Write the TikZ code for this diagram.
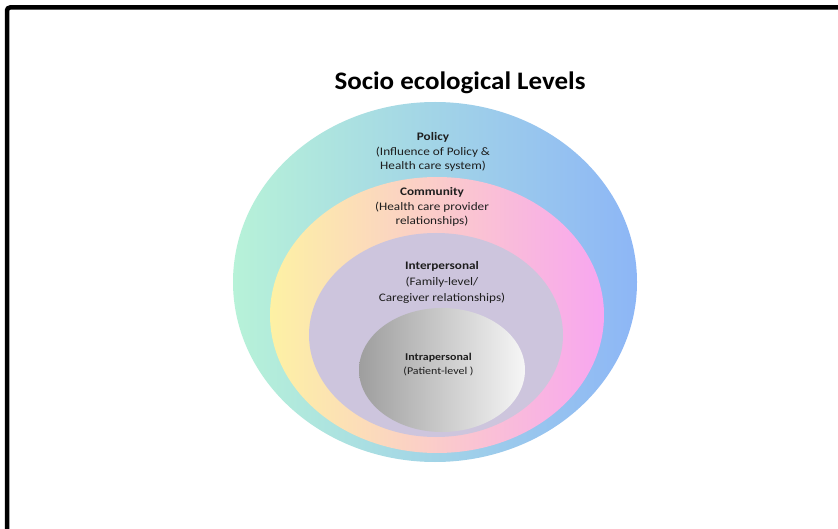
\documentclass[tikz,border=0pt]{standalone}
\usepackage{fontspec}
\setmainfont[FakeStretch=1.15]{Carlito}
\newfontfamily\headfont[FakeStretch=1.07]{Carlito}
\usetikzlibrary{shapes.geometric}
\definecolor{txt}{HTML}{1E1E1E}
\definecolor{polL}{HTML}{B7F2D8}
\definecolor{polM}{HTML}{A9DDE6}
\definecolor{polR}{HTML}{8DB6F6}
\definecolor{comL}{HTML}{FDF1A4}
\definecolor{comM}{HTML}{FCC2CC}
\definecolor{comR}{HTML}{F8A6F0}
\definecolor{inter}{HTML}{CDC5DD}
\definecolor{intraL}{HTML}{9E9E9E}
\definecolor{intraR}{HTML}{F6F6F6}
\tikzset{
  level/.style={ellipse, inner sep=0pt, draw=none},
  lab/.style={align=center, text=txt, inner sep=0pt},
}
\begin{document}
\begin{tikzpicture}[x=1pt,y=-1pt]
  \useasboundingbox (0,0) rectangle (838,529);
  \fill[white] (0,0) rectangle (838,529);
  % frame along the top and left edges
  \draw[line width=4.5pt, rounded corners=3pt] (7,529) -- (7,7.5) -- (838,7.5);

  % title
  \node[font=\headfont\bfseries\fontsize{25.2}{28}\selectfont, text=black, inner sep=0pt, anchor=base]
    (title) at (460,90) {Socio ecological Levels};

  % nested levels
  \node[level, minimum width=404pt, minimum height=360pt,
        left color=polL, middle color=polM, right color=polR] (policy) at (435,282) {};
  \node[level, minimum width=334pt, minimum height=276pt,
        left color=comL, middle color=comM, right color=comR] (community) at (437,315) {};
  \node[level, minimum width=254pt, minimum height=204pt, fill=inter] (interpersonal) at (436,335) {};
  \node[level, minimum width=166pt, minimum height=124pt,
        left color=intraL, right color=intraR] (intrapersonal) at (442,370) {};

  % labels
  \node[lab, font=\fontsize{11.5}{14.7}\selectfont] (tpolicy) at (433,152)
    {\textbf{Policy}\\(Influence of Policy \&\\Health care system)};
  \node[lab, font=\fontsize{11.5}{14.5}\selectfont] (tcommunity) at (432,207)
    {\textbf{Community}\\(Health care provider\\relationships)};
  \node[lab, font=\fontsize{11.5}{15.7}\selectfont] (tinter) at (442,282.3)
    {\textbf{Interpersonal}\\(Family-level/\\Caregiver relationships)};
  \node[lab, font=\fontsize{10.4}{14}\selectfont] (tintra) at (438.5,365)
    {\textbf{Intrapersonal}\\(Patient-level )};
\end{tikzpicture}
\end{document}
